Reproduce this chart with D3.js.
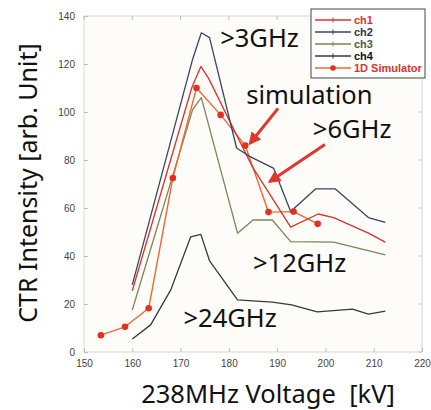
<!DOCTYPE html>
<html>
<head>
<meta charset='UTF-8'>
<title>CTR Intensity</title>
<script src='https://cdn.jsdelivr.net/npm/d3@7/dist/d3.min.js'></script>
<style>
  body {margin:0; background:#fff;}
  .big {font-family:'Noto Sans', sans-serif; fill:#111;}
  .tick-label {font-family:'Liberation Sans', Arial, sans-serif; font-size:10px; fill:#444;}
  .legend-text {font-family:'Liberation Sans', Arial, sans-serif; font-size:11px; font-weight:bold;}
</style>
</head>
<body>
<div id='chart'></div>
<script>
/* Data */
var xTicks = [150, 160, 170, 180, 190, 200, 210, 220];
var yTicks = [0, 20, 40, 60, 80, 100, 120, 140];

var ch1X = [160, 172.3, 174.2, 175.8, 184.9, 192.8, 198.5, 201.7, 208.9, 212.4];
var ch1Y = [25.5, 110, 119, 114, 77, 52, 57.5, 56, 49.5, 45.8];

var ch2X = [160, 172.5, 174.3, 176, 181.6, 184.3, 189.3, 192.8, 198, 202, 208.9, 212.4];
var ch2Y = [28, 122, 133, 131, 85, 81.5, 76.5, 58.5, 68, 68, 56, 54];

var ch3X = [160, 172.5, 174.3, 181.8, 185, 189, 192.8, 201.7, 212.4];
var ch3Y = [17.5, 101, 106, 49.5, 55, 55, 46, 45.8, 40.5];

var ch4X = [160, 163.8, 168, 172.1, 174.2, 176, 181.8, 189, 193, 198.3, 205.6, 208.9, 212.4];
var ch4Y = [5.4, 11.3, 26, 48, 49, 38, 21.7, 20.8, 19.6, 16.7, 17.9, 15.8, 17];

var simX = [153.5, 158.5, 163.4, 168.4, 173.3, 178.3, 183.4, 188.2, 193.4, 198.4];
var simY = [7, 10.5, 18.2, 72.5, 110, 98.8, 86, 58.3, 58.5, 53.4];

var seriesNames = ['ch1', 'ch2', 'ch3', 'ch4', '1D Simulator'];
var seriesColors = ['#d8332c', '#3b4563', '#7d8458', '#3a3a3a', '#ec6a35'];
var textColors = ['#d8332c', '#2e3450', '#55583f', '#111', '#d8332c'];

var labels = [
  {text: '>3GHz', x: 178.2, y: 127},
  {text: 'simulation', x: 183.6, y: 103.5},
  {text: '>6GHz', x: 197.4, y: 89},
  {text: '>12GHz', x: 185, y: 33.5},
  {text: '>24GHz', x: 170.6, y: 10.5}
];

var width = 431;
var height = 410;

var xScale = d3.scaleLinear().domain([150, 220]).range([84, 422]);
var yScale = d3.scaleLinear().domain([0, 140]).range([352, 16]);

var svg = d3.select('#chart').append('svg')
  .attr('width', width)
  .attr('height', height);

/* plot background + frame */
svg.append('rect')
  .attr('x', xScale(150)).attr('y', yScale(140))
  .attr('width', xScale(220) - xScale(150))
  .attr('height', yScale(0) - yScale(140))
  .attr('fill', '#fdfcf8')
  .attr('stroke', '#d6d6d2')
  .attr('stroke-width', 1);

var xAxis = d3.axisBottom(xScale).tickValues(xTicks).tickSize(-4).tickPadding(8);
var yAxis = d3.axisLeft(yScale).tickValues(yTicks).tickSize(-4).tickPadding(9);

var gx = svg.append('g')
  .attr('transform', `translate(0, ${yScale(0)})`)
  .call(xAxis);
var gy = svg.append('g')
  .attr('transform', `translate(${xScale(150)}, 0)`)
  .call(yAxis);
[gx, gy].forEach(function(g) {
  g.select('.domain').remove();
  g.selectAll('line').attr('stroke', '#bbb');
  g.selectAll('text').attr('class', 'tick-label').attr('fill', null);
});

/* top / right inner ticks */
svg.append('g').selectAll('line')
  .data(xTicks).enter().append('line')
  .attr('x1', d => xScale(d)).attr('x2', d => xScale(d))
  .attr('y1', yScale(140)).attr('y2', yScale(140) + 4)
  .attr('stroke', '#bbb');
svg.append('g').selectAll('line')
  .data(yTicks).enter().append('line')
  .attr('x1', xScale(220)).attr('x2', xScale(220) - 4)
  .attr('y1', d => yScale(d)).attr('y2', d => yScale(d))
  .attr('stroke', '#ccc');

/* lines */
var line = d3.line()
  .x(d => xScale(d[0]))
  .y(d => yScale(d[1]));

function pairs(xs, ys) { return xs.map((x, i) => [x, ys[i]]); }

var series = [
  pairs(ch1X, ch1Y),
  pairs(ch2X, ch2Y),
  pairs(ch3X, ch3Y),
  pairs(ch4X, ch4Y),
  pairs(simX, simY)
];

var drawOrder = [3, 2, 4, 0, 1];
svg.append('g').selectAll('path')
  .data(drawOrder).enter().append('path')
  .attr('d', i => line(series[i]))
  .attr('fill', 'none')
  .attr('stroke', i => seriesColors[i])
  .attr('stroke-width', i => i === 4 ? 1.4 : 1.3)
  .attr('stroke-linejoin', 'round');

svg.append('g').selectAll('circle')
  .data(series[4]).enter().append('circle')
  .attr('cx', d => xScale(d[0]))
  .attr('cy', d => yScale(d[1]))
  .attr('r', 3.3)
  .attr('fill', '#e2321f');

/* annotations */
svg.append('g').selectAll('text')
  .data(labels).enter().append('text')
  .attr('class', 'big')
  .attr('x', d => xScale(d.x))
  .attr('y', d => yScale(d.y))
  .attr('font-size', 25.5)
  .text(d => d.text);

/* arrows */
var defs = svg.append('defs');
defs.append('marker')
  .attr('id', 'head')
  .attr('viewBox', '0 0 10 10')
  .attr('refX', 8).attr('refY', 5)
  .attr('markerWidth', 4.2).attr('markerHeight', 4.2)
  .attr('orient', 'auto')
  .append('path')
  .attr('d', 'M0,0 L10,5 L0,10 Z')
  .attr('fill', '#e0362c');

var arrows = [
  {x1: 190.2, y1: 101.5, x2: 184.4, y2: 87},
  {x1: 199.9, y1: 86.5, x2: 188.5, y2: 71}
];
svg.append('g').selectAll('line')
  .data(arrows).enter().append('line')
  .attr('x1', d => xScale(d.x1)).attr('y1', d => yScale(d.y1))
  .attr('x2', d => xScale(d.x2)).attr('y2', d => yScale(d.y2))
  .attr('stroke', '#e0362c')
  .attr('stroke-width', 3)
  .attr('marker-end', 'url(#head)');

/* legend */
var legend = svg.append('g');
legend.append('rect')
  .attr('x', 311).attr('y', 9)
  .attr('width', 114).attr('height', 69)
  .attr('fill', '#fff')
  .attr('stroke', '#444')
  .attr('stroke-width', 1);

var items = legend.selectAll('.item')
  .data(seriesNames).enter().append('g')
  .attr('transform', (d, i) => `translate(315, ${20 + i * 12})`);
items.append('line')
  .attr('x1', 0).attr('x2', 36)
  .attr('stroke', (d, i) => seriesColors[i])
  .attr('stroke-width', 1.3);
items.append('line')
  .attr('x1', 18).attr('x2', 18).attr('y1', -2.5).attr('y2', 2.5)
  .attr('stroke', (d, i) => seriesColors[i])
  .attr('display', (d, i) => i === 4 ? 'none' : null);
items.filter((d, i) => i === 4).append('circle')
  .attr('cx', 18).attr('r', 2.8).attr('fill', '#e2321f');
items.append('text')
  .attr('class', 'legend-text')
  .attr('x', 39).attr('y', 4)
  .attr('fill', (d, i) => textColors[i])
  .text(d => d);

/* axis titles */
svg.append('text')
  .attr('class', 'big')
  .attr('font-size', 25)
  .attr('text-anchor', 'middle')
  .attr('transform', 'translate(37, 183) rotate(-90)')
  .text('CTR Intensity [arb. Unit]');

svg.append('text')
  .attr('class', 'big')
  .attr('font-size', 25.5)
  .attr('text-anchor', 'middle')
  .attr('x', 268).attr('y', 403)
  .style('white-space', 'pre')
  .text('238MHz Voltage  [kV]');
</script>
</body>
</html>
